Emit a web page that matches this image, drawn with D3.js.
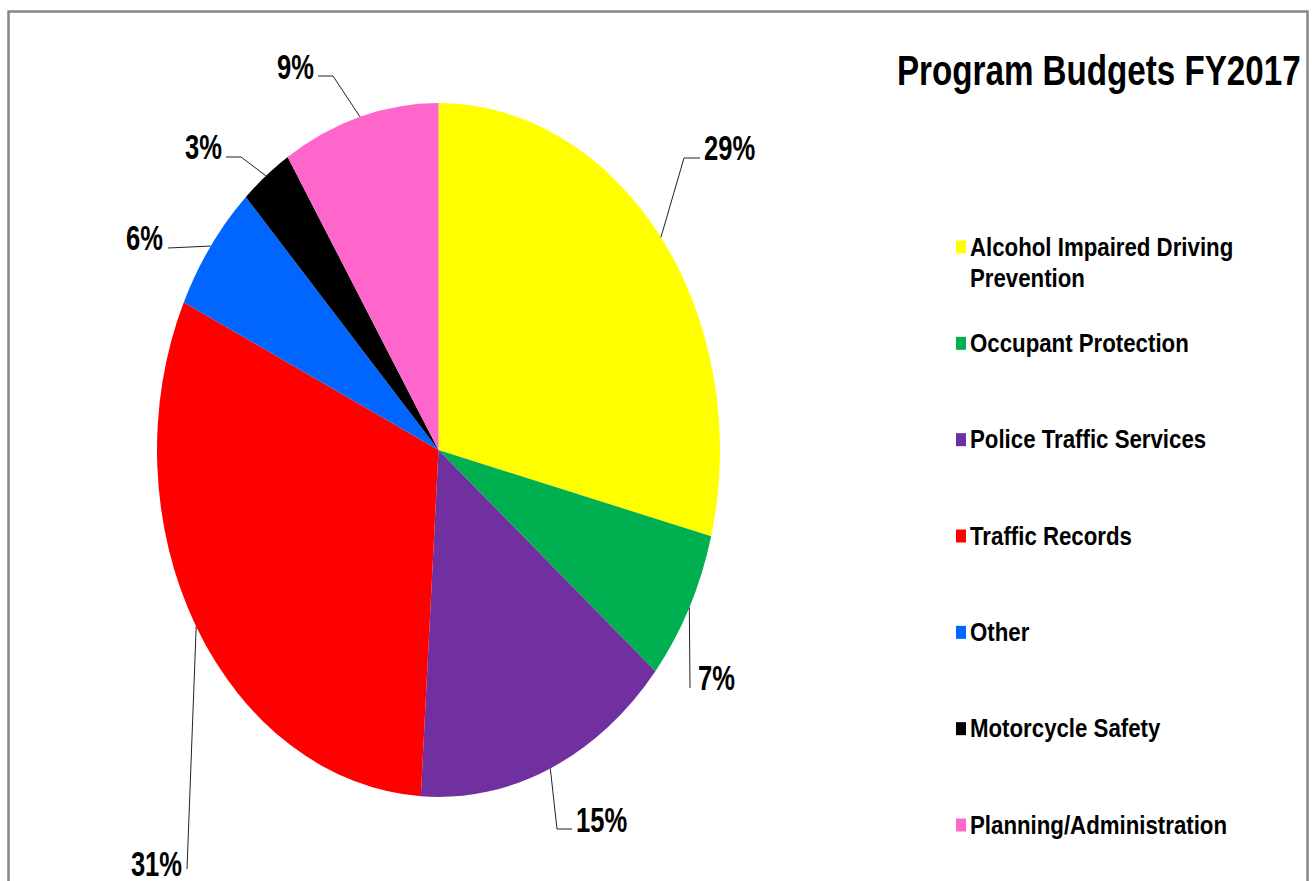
<!DOCTYPE html>
<html>
<head>
<meta charset="utf-8">
<script src="https://cdn.jsdelivr.net/npm/d3@7"></script>
<style>
  html, body { margin: 0; padding: 0; background: #fff; }
  svg { display: block; }
  text { font-family: "Liberation Sans", Arial, sans-serif; font-weight: bold; fill: #000; }
</style>
</head>
<body>
<script>
// Program budget shares, FY2017 (percent of total)
const categories = [
  "Alcohol Impaired Driving Prevention",
  "Occupant Protection",
  "Police Traffic Services",
  "Traffic Records",
  "Other",
  "Motorcycle Safety",
  "Planning/Administration"
];
const values = [29, 7, 15, 31, 6, 3, 9];
const colors = ["#FFFF00", "#00B050", "#7030A0", "#FF0000", "#0066FF", "#000000", "#FF66CC"];
// Legend text, wrapped where the entry runs long
const legendLines = [
  ["Alcohol Impaired Driving", "Prevention"],
  ["Occupant Protection"],
  ["Police Traffic Services"],
  ["Traffic Records"],
  ["Other"],
  ["Motorcycle Safety"],
  ["Planning/Administration"]
];
const title = "Program Budgets FY2017";

const W = 1312, H = 881;
const svg = d3.select("body").append("svg").attr("width", W).attr("height", H);

// Outer frame
svg.append("rect")
  .attr("x", 8.5).attr("y", 11.5).attr("width", 1299).attr("height", 900)
  .attr("fill", "none").attr("stroke", "#858585").attr("stroke-width", 2.5);

// Elliptical pie: a circular arc stretched vertically
const cx = 438.5, cy = 450, rx = 281.5, ry = 347;
const pie = d3.pie().sort(null).value(d => d);
const arcs = pie(values);
const arc = d3.arc().innerRadius(0).outerRadius(ry);

svg.append("g")
  .attr("transform", `translate(${cx},${cy}) scale(${rx / ry},1)`)
  .selectAll("path")
  .data(arcs)
  .join("path")
  .attr("d", arc)
  .attr("fill", (d, i) => colors[i]);

// Edge point of a slice at its middle angle
function edgePoint(d) {
  const a = (d.startAngle + d.endAngle) / 2;
  return [cx + rx * Math.sin(a), cy - ry * Math.cos(a)];
}

// Label placement: elbow of the leader, end of the leader, text anchor
const labelLayout = [
  { elbow: [684, 158], end: [700, 158], tx: 704, ty: 160, anchor: "start" },
  { elbow: [690, 688], end: [690, 688], tx: 698, ty: 690, anchor: "start" },
  { elbow: [557, 829], end: [572, 829], tx: 576, ty: 832, anchor: "start" },
  { elbow: [187, 869], end: [187, 869], tx: 182, ty: 876, anchor: "end" },
  { elbow: [168, 248], end: [168, 248], tx: 163, ty: 250, anchor: "end" },
  { elbow: [241, 157], end: [226, 157], tx: 222, ty: 159, anchor: "end" },
  { elbow: [333, 76], end: [318, 76], tx: 314, ty: 79, anchor: "end" }
];

const labels = svg.append("g");
arcs.forEach((d, i) => {
  const L = labelLayout[i];
  const p = edgePoint(d);
  labels.append("polyline")
    .attr("points", [p, L.elbow, L.end].map(q => q.join(",")).join(" "))
    .attr("fill", "none").attr("stroke", "#222").attr("stroke-width", 1);
  labels.append("text")
    .attr("transform", `translate(${L.tx},${L.ty}) scale(0.73,1)`)
    .attr("text-anchor", L.anchor)
    .attr("font-size", 35)
    .text(values[i] + "%");
});

// Title
svg.append("text")
  .attr("transform", "translate(897,85) scale(0.79,1)")
  .attr("font-size", 42)
  .text(title);

// Legend: evenly spaced rows
const legendX = 956;
const legendY = d3.scaleLinear().domain([0, categories.length - 1]).range([247, 825]);
const legend = svg.append("g");
categories.forEach((c, i) => {
  const y = legendY(i);
  const g = legend.append("g");
  g.append("rect")
    .attr("x", legendX).attr("y", y - 6.5)
    .attr("width", 10).attr("height", 13)
    .attr("fill", colors[i]);
  legendLines[i].forEach((line, j) => {
    g.append("text")
      .attr("transform", `translate(${legendX + 14},${y + 8.5 + j * 31}) scale(0.89,1)`)
      .attr("font-size", 25)
      .text(line);
  });
});
</script>
</body>
</html>
